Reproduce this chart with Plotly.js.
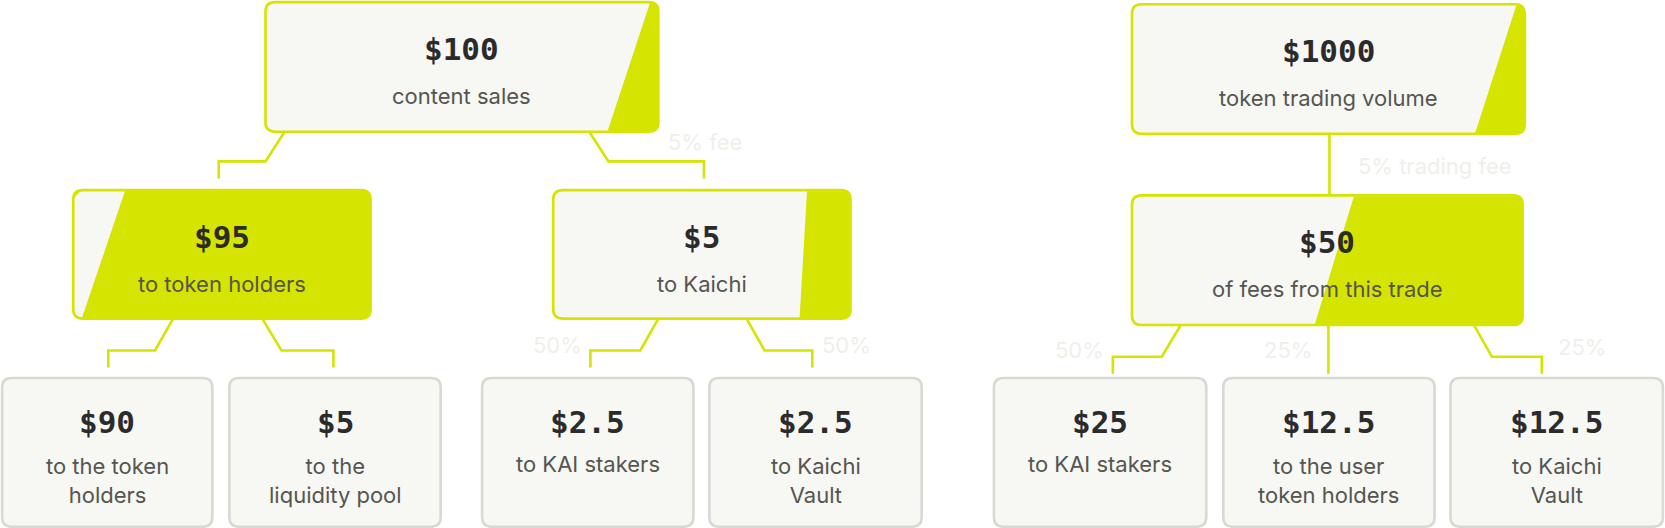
<!DOCTYPE html>
<html>
<head>
<script src="https://cdn.plot.ly/plotly-3.0.1.min.js"></script>
<style>body{margin:0;background:#fff}#chart{width:1665px;height:528px}</style>
</head>
<body>
<div id="chart"></div>
<script>
// node values and labels
const amounts = ['$100', '$95', '$5', '$90', '$5', '$2.5', '$2.5',
                 '$1000', '$50', '$25', '$12.5', '$12.5'];
const labels = ['content sales', 'to token holders', 'to Kaichi',
                'to the token<br>holders', 'to the<br>liquidity pool', 'to KAI stakers', 'to Kaichi<br>Vault',
                'token trading volume', 'of fees from this trade',
                'to KAI stakers', 'to the user<br>token holders', 'to Kaichi<br>Vault'];
const feeLabels = ['5% fee', '50%', '50%', '5% trading fee', '50%', '25%', '25%'];

// layout of boxes: [x0, y0, x1, y1] in a 1568-wide drawing space
const boxes = [
  [250, 2, 620, 124], [69, 179, 349, 300], [521, 179, 801, 300],
  [2, 356, 200, 496], [216, 356, 415, 496], [454, 356, 653, 496], [668, 356, 868, 496],
  [1066, 4, 1436, 126], [1066, 184, 1434, 306],
  [936, 356, 1136, 496], [1152, 356, 1351, 496], [1366, 356, 1566, 496]
];
// wedge: [topX, bottomX, side] ; side 'R' green to right, 'L' light to left
const wedges = {0: [612, 572, 'R'], 1: [118, 77, 'L'], 2: [760, 753, 'R'], 7: [1428, 1389, 'R'], 8: [1275, 1238, 'R']};
const connectors = [
  [[268,124],[250,152],[206,152],[206,168]], [[555,124],[573,152],[663,152],[663,168]],
  [[163,300],[146,330],[102,330],[102,346]], [[247,300],[265,330],[314,330],[314,346]],
  [[620,300],[603,330],[556,330],[556,346]], [[703,300],[720,330],[765,330],[765,346]],
  [[1252,126],[1252,184]],
  [[1112,306],[1094,336],[1048,336],[1048,352]], [[1251,306],[1251,352]],
  [[1388,306],[1405,336],[1452,336],[1452,352]]
];
const feePos = [[664,134], [525,325], [797,325], [1351,156], [1017,330], [1213,330], [1490,327]];

const GREEN = '#d5e400', LIGHT = '#f7f7f4', GREY = '#d9d9d3';

function rr(b, r) {
  const [x0, y0, x1, y1] = b;
  return `M${x0+r},${y0} L${x1-r},${y0} Q${x1},${y0} ${x1},${y0+r} L${x1},${y1-r} Q${x1},${y1} ${x1-r},${y1} ` +
         `L${x0+r},${y1} Q${x0},${y1} ${x0},${y1-r} L${x0},${y0+r} Q${x0},${y0} ${x0+r},${y0} Z`;
}

const shapes = [], annotations = [];
boxes.forEach((b, i) => {
  const hl = i in wedges;
  const w = wedges[i];
  const base = hl && w[2] === 'L' ? GREEN : LIGHT;
  shapes.push({type: 'path', path: rr(b, 9), fillcolor: base, line: {width: 0}, layer: 'below'});
  if (hl) {
    const [tx, bx, side] = w;
    const p = side === 'R'
      ? `M${tx},${b[1]+1} L${b[2]-8},${b[1]+1} Q${b[2]},${b[1]} ${b[2]},${b[1]+8} L${b[2]},${b[3]-8} Q${b[2]},${b[3]} ${b[2]-8},${b[3]} L${bx},${b[3]} Z`
      : `M${b[0]+8},${b[1]} L${tx},${b[1]} L${bx},${b[3]} L${b[0]+6},${b[3]} Q${b[0]},${b[3]} ${b[0]},${b[3]-6} L${b[0]},${b[1]+8} Z`;
    shapes.push({type: 'path', path: p, fillcolor: side === 'R' ? GREEN : LIGHT, line: {width: 0}, layer: 'below'});
  }
  shapes.push({type: 'path', path: rr(b, 9), fillcolor: 'rgba(0,0,0,0)', line: {color: hl ? GREEN : GREY, width: 2.6}});
  const cx = (b[0] + b[2]) / 2;
  const bottom = b[1] > 340;
  const twoLine = labels[i].indexOf('<br>') >= 0;
  annotations.push({x: cx, y: bottom ? b[1] + 41 : b[1] + 44, text: '<b>' + amounts[i] + '</b>', showarrow: false,
    font: {family: 'DejaVu Sans Mono', size: 31, color: '#2b2b2b'}});
  annotations.push({x: cx, y: bottom ? b[1] + (twoLine ? 96 : 81) : b[1] + 88, text: labels[i], showarrow: false,
    font: {family: 'Inter, Noto Sans', size: 22, color: '#555550'}});
});
connectors.forEach(c => {
  shapes.push({type: 'path', path: 'M' + c.map(p => p.join(',')).join(' L'), line: {color: GREEN, width: 2.6}, fillcolor: 'rgba(0,0,0,0)'});
});
feeLabels.forEach((t, i) => {
  annotations.push({x: feePos[i][0], y: feePos[i][1], text: t, showarrow: false,
    font: {family: 'Inter, Noto Sans', size: 22, color: '#efefea'}});
});

Plotly.newPlot('chart', [], {
  width: 1665, height: 528,
  margin: {l: 0, r: 0, t: 0, b: 0},
  xaxis: {range: [0, 1568], visible: false, fixedrange: true},
  yaxis: {range: [497.2, 0], visible: false, fixedrange: true},
  paper_bgcolor: '#fff', plot_bgcolor: '#fff',
  shapes: shapes, annotations: annotations, showlegend: false
}, {displayModeBar: false, staticPlot: true});
</script>
</body>
</html>
